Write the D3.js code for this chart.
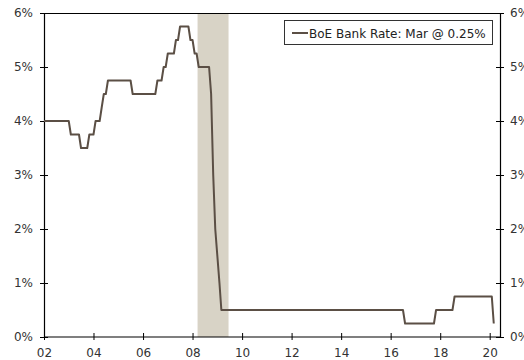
<!DOCTYPE html>
<html>
<head>
<meta charset="utf-8">
<script src="https://cdn.jsdelivr.net/npm/d3@7"></script>
<style>
body { margin: 0; background: #fff; }
svg { display: block; font-family: "DejaVu Sans", Verdana, sans-serif; }
</style>
</head>
<body>
<svg width="524" height="360"></svg>
<script>
var svg = d3.select('svg');

// monthly BoE Bank Rate, Jan 2002 .. Mar 2020 (%)
var firstMonth = new Date(2002, 0, 1);
var bankRate = [
	4, 4, 4, 4, 4, 4, 4, 4, 4, 4, 4, 4,                                  // 2002
	4, 3.75, 3.75, 3.75, 3.75, 3.75, 3.5, 3.5, 3.5, 3.5, 3.75, 3.75,     // 2003
	3.75, 4, 4, 4, 4.25, 4.5, 4.5, 4.75, 4.75, 4.75, 4.75, 4.75,         // 2004
	4.75, 4.75, 4.75, 4.75, 4.75, 4.75, 4.75, 4.5, 4.5, 4.5, 4.5, 4.5,   // 2005
	4.5, 4.5, 4.5, 4.5, 4.5, 4.5, 4.5, 4.75, 4.75, 4.75, 5, 5,           // 2006
	5.25, 5.25, 5.25, 5.25, 5.5, 5.5, 5.75, 5.75, 5.75, 5.75, 5.75, 5.5, // 2007
	5.5, 5.25, 5.25, 5, 5, 5, 5, 5, 5, 4.5, 3, 2,                        // 2008
	1.5, 1, 0.5, 0.5, 0.5, 0.5, 0.5, 0.5, 0.5, 0.5, 0.5, 0.5,            // 2009
	0.5, 0.5, 0.5, 0.5, 0.5, 0.5, 0.5, 0.5, 0.5, 0.5, 0.5, 0.5,          // 2010
	0.5, 0.5, 0.5, 0.5, 0.5, 0.5, 0.5, 0.5, 0.5, 0.5, 0.5, 0.5,          // 2011
	0.5, 0.5, 0.5, 0.5, 0.5, 0.5, 0.5, 0.5, 0.5, 0.5, 0.5, 0.5,          // 2012
	0.5, 0.5, 0.5, 0.5, 0.5, 0.5, 0.5, 0.5, 0.5, 0.5, 0.5, 0.5,          // 2013
	0.5, 0.5, 0.5, 0.5, 0.5, 0.5, 0.5, 0.5, 0.5, 0.5, 0.5, 0.5,          // 2014
	0.5, 0.5, 0.5, 0.5, 0.5, 0.5, 0.5, 0.5, 0.5, 0.5, 0.5, 0.5,          // 2015
	0.5, 0.5, 0.5, 0.5, 0.5, 0.5, 0.5, 0.25, 0.25, 0.25, 0.25, 0.25,     // 2016
	0.25, 0.25, 0.25, 0.25, 0.25, 0.25, 0.25, 0.25, 0.25, 0.25, 0.5, 0.5, // 2017
	0.5, 0.5, 0.5, 0.5, 0.5, 0.5, 0.5, 0.75, 0.75, 0.75, 0.75, 0.75,     // 2018
	0.75, 0.75, 0.75, 0.75, 0.75, 0.75, 0.75, 0.75, 0.75, 0.75, 0.75, 0.75, // 2019
	0.75, 0.75, 0.25                                                     // 2020
];

// recession shading
var shadeStart = new Date(2008, 2, 15);
var shadeEnd = new Date(2009, 5, 15);

var yTicks = [0, 1, 2, 3, 4, 5, 6];
var legendLabel = 'BoE Bank Rate: Mar @ 0.25%';

var plotL = 44, plotR = 500, plotT = 13, plotB = 337;
var lineColor = '#5b4f45';

var data = bankRate.map(function (v, i) {
	return { date: d3.timeMonth.offset(firstMonth, i), value: v };
});

var x = d3.scaleTime()
	.domain([new Date(2002, 0, 1), new Date(2020, 5, 1)])
	.range([plotL, plotR]);
var y = d3.scaleLinear().domain([0, 6]).range([plotB, plotT]);

// shaded band
svg.append('rect')
	.attr('x', x(shadeStart))
	.attr('y', plotT)
	.attr('width', x(shadeEnd) - x(shadeStart))
	.attr('height', plotB - plotT)
	.attr('fill', '#d8d3c6');

// top border
svg.append('line')
	.attr('x1', plotL).attr('x2', plotR)
	.attr('y1', plotT + 0.5).attr('y2', plotT + 0.5)
	.attr('stroke', '#000');

function styleAxis(g) {
	g.select('.domain').attr('stroke', '#000').attr('stroke-width', 1.2);
	g.selectAll('.tick line').attr('stroke', '#000');
	g.selectAll('.tick text').attr('fill', '#333').style('font-size', '12px')
		.style('font-family', '"DejaVu Sans", Verdana, sans-serif');
}

var pct = function (d) { return d + '%'; };

var gLeft = svg.append('g')
	.attr('transform', 'translate(' + plotL + ',0)')
	.call(d3.axisLeft(y).tickValues(yTicks).tickFormat(pct).tickSizeOuter(0).tickSizeInner(4).tickPadding(7))
	.call(styleAxis);
gLeft.selectAll('.tick line').attr('x1', 4);

var gRight = svg.append('g')
	.attr('transform', 'translate(' + plotR + ',0)')
	.call(d3.axisRight(y).tickValues(yTicks).tickFormat(pct).tickSizeOuter(0).tickSizeInner(4).tickPadding(6))
	.call(styleAxis);
gRight.selectAll('.tick line').attr('x1', -4);

var gBottom = svg.append('g')
	.attr('transform', 'translate(0,' + plotB + ')')
	.call(d3.axisBottom(x).ticks(d3.timeYear.every(2)).tickFormat(d3.timeFormat('%y')).tickSizeOuter(0).tickSizeInner(3).tickPadding(8))
	.call(styleAxis);
gBottom.selectAll('.tick line').attr('y1', -4);
gBottom.select('.domain').attr('d', 'M' + plotL + ',0H' + plotR);

// rate line
var line = d3.line()
	.x(function (d) { return x(d.date); })
	.y(function (d) { return y(d.value); });

svg.append('path')
	.datum(data)
	.attr('d', line)
	.attr('fill', 'none')
	.attr('stroke', lineColor)
	.attr('stroke-width', 2)
	.attr('stroke-linejoin', 'round');

// legend
var lg = svg.append('g');
lg.append('rect')
	.attr('x', 284.5).attr('y', 20.5)
	.attr('width', 208).attr('height', 24)
	.attr('fill', '#fff')
	.attr('stroke', '#333');
lg.append('line')
	.attr('x1', 292).attr('x2', 308)
	.attr('y1', 33).attr('y2', 33)
	.attr('stroke', lineColor)
	.attr('stroke-width', 2);
lg.append('text')
	.attr('x', 309).attr('y', 37.5)
	.attr('fill', '#222')
	.style('font-size', '12px')
	.text(legendLabel);
</script>
</body>
</html>
